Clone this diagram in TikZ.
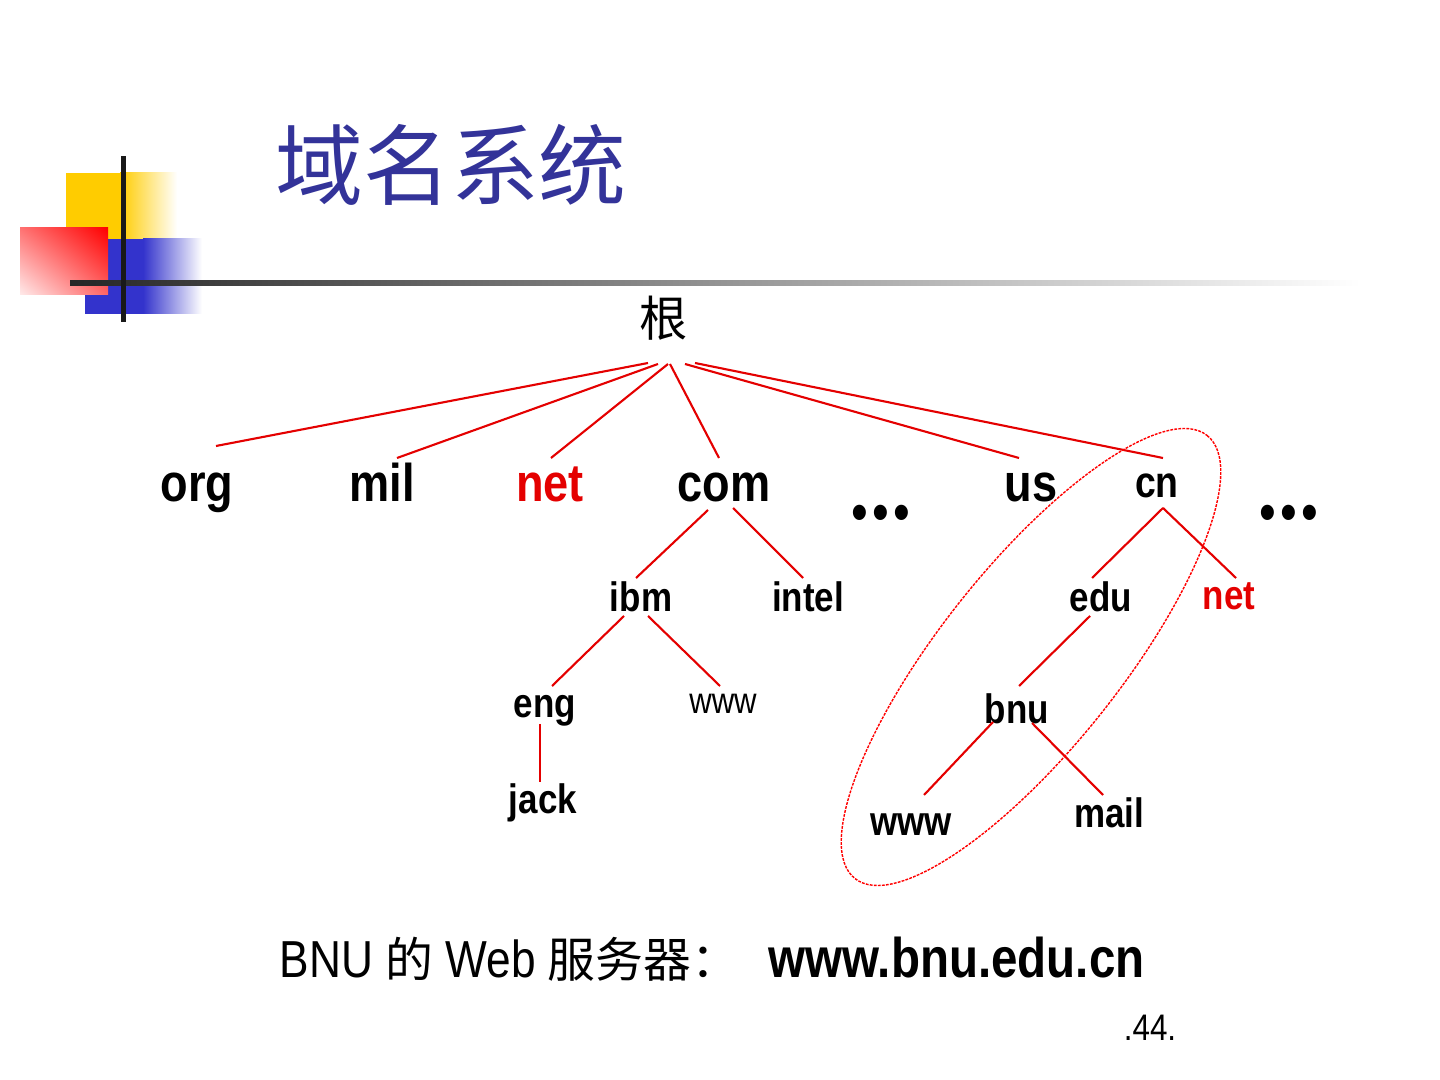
\documentclass[tikz,border=0pt]{standalone}
\usepackage{fontspec}
\setmainfont{Liberation Sans}[FakeStretch=0.85]
\newfontfamily\cjk{Noto Sans CJK SC}
\usetikzlibrary{calc,shadings}
\definecolor{titleblue}{RGB}{51,51,153}
\definecolor{deckyellow}{RGB}{255,204,0}
\definecolor{deckblue}{RGB}{51,51,204}
\definecolor{deckred}{RGB}{255,0,0}
\definecolor{linkred}{RGB}{228,0,0}
\tikzset{
    % Slide title - blue CJK
    slidetitle/.style={
        inner sep=0pt,
        text=titleblue,
        font=\cjk\fontsize{25}{30}\selectfont
    },
    % Root of the tree
    rootlabel/.style={
        inner sep=0pt,
        font=\cjk\fontsize{13.7}{16}\selectfont
    },
    % Top level domains - large bold
    toplabel/.style={
        anchor=base,
        inner sep=0pt,
        font=\fontsize{15.1}{18}\selectfont\bfseries
    },
    % Lower level domains
    sublabel/.style={
        anchor=base,
        inner sep=0pt,
        font=\fontsize{11.7}{14}\selectfont\bfseries
    },
    % Thin host name
    hostlabel/.style={
        anchor=base,
        inner sep=0pt,
        font=\fontsize{10.4}{12}\selectfont
    },
    % Highlighted label
    hot/.style={
        text=linkred
    },
    % Ellipsis dots
    moredots/.style={
        anchor=base,
        inner sep=0pt,
        font=\fontsize{16}{19}\selectfont
    },
    % Footer text
    footer/.style={
        anchor=base west,
        inner sep=0pt,
        font=\fontsize{14.8}{18}\selectfont
    },
    % Tree branch
    branch/.style={
        draw=linkred,
        line width=0.6pt
    },
    % Hand drawn ring
    zonering/.style={
        draw=deckred,
        line width=0.4pt,
        dash pattern=on 0.8pt off 0.35pt
    }
}
\begin{document}
\begin{tikzpicture}[x=0.01cm, y=-0.01cm]
    \useasboundingbox (0,0) rectangle (1440,1080);

    % ========== CORNER DECORATION ==========
    \fill[deckyellow] (66,173) rectangle (120,239);
    \shade[left color=deckyellow, right color=white] (120,173) rectangle (177,239);
    \fill[deckblue] (85,239) rectangle (143,314);
    \shade[left color=deckblue, right color=white] (143,239) rectangle (202,314);
    \shade[upper right=deckred, upper left=deckred!55, lower right=deckred!60, lower left=deckred!8] (20,228) rectangle (108,295);
    \shade[left color=black!85, right color=white] (70,280.5) rectangle (1360,285.5);
    \fill[black!90] (120.5,156) rectangle (125.5,322);

    % ========== TITLE ==========
    \node[slidetitle] (title) at (451,165) {域名系统};

    % ========== ROOT ==========
    \node[rootlabel] (root) at (664,318) {根};

    % ========== TOP LEVEL ==========
    \node[toplabel] (org) at (197,502) {org};
    \node[toplabel] (mil) at (382,502) {mil};
    \node[toplabel, hot] (net) at (550,502) {net};
    \node[toplabel] (com) at (724,502) {com};
    \node[moredots] (dotsa) at (881,532) {•\kern1.2pt•\kern1.2pt•};
    \node[toplabel] (us) at (1031,502) {us};
    \node[sublabel, font=\fontsize{12.5}{15}\selectfont\bfseries] (cn) at (1157,498) {cn};
    \node[moredots] (dotsb) at (1289,532) {•\kern1.2pt•\kern1.2pt•};

    % ========== UNDER COM ==========
    \node[sublabel] (ibm) at (641,612) {ibm};
    \node[sublabel] (intel) at (808,612) {intel};
    \node[sublabel] (eng) at (545,718) {eng};
    \node[hostlabel] (ibmwww) at (723,713) {www};
    \node[sublabel] (jack) at (543,813) {jack};

    % ========== UNDER CN ==========
    \node[sublabel] (edu) at (1101,612) {edu};
    \node[sublabel, hot] (cnnet) at (1229,610) {net};
    \node[sublabel] (bnu) at (1017,723) {bnu};
    \node[sublabel] (bnuwww) at (911,835) {www};
    \node[sublabel] (mail) at (1109,827) {mail};

    % ========== FOOTER ==========
    \node[footer] (server) at (279,977) {BNU {\cjk\fontsize{13.6}{16}\selectfont 的} Web {\cjk\fontsize{13.6}{16}\selectfont 服务器：}};
    \node[footer, font=\fontsize{15.9}{19}\selectfont\bfseries] (url) at (768,977) {www.bnu.edu.cn};
    \node[anchor=base, inner sep=0pt, font=\fontsize{10.5}{12}\selectfont] (page) at (1150,1040) {.44.};

    % ========== CONNECTIONS ==========

    % Root to top level
    \draw[branch] ($(root)+(-16,45)$) -- ($(org.base)+(19,-56)$);
    \draw[branch] ($(root)+(-6,46)$) -- ($(mil.base)+(15,-44)$);
    \draw[branch] ($(root)+(4,46)$) -- ($(net.base)+(1,-44)$);
    \draw[branch] ($(root)+(6,46)$) -- ($(com.base)+(-5,-44)$);
    \draw[branch] ($(root)+(21,46)$) -- ($(us.base)+(-12,-44)$);
    \draw[branch] ($(root)+(31,45)$) -- ($(cn.base)+(6,-40)$);

    % Com branch
    \draw[branch] ($(com.base)+(-16,8)$) -- ($(ibm.base)+(-5,-34)$);
    \draw[branch] ($(com.base)+(9,6)$) -- ($(intel.base)+(-5,-34)$);
    \draw[branch] ($(ibm.base)+(-17,4)$) -- ($(eng.base)+(7,-32)$);
    \draw[branch] ($(ibm.base)+(7,4)$) -- ($(ibmwww.base)+(-3,-27)$);
    \draw[branch] ($(eng.base)+(-5,6)$) -- ($(jack.base)+(-3,-31)$);

    % Cn branch
    \draw[branch] ($(cn.base)+(6,10)$) -- ($(edu.base)+(-9,-34)$);
    \draw[branch] ($(cn.base)+(6,10)$) -- ($(cnnet.base)+(7,-32)$);
    \draw[branch] ($(edu.base)+(-11,4)$) -- ($(bnu.base)+(2,-37)$);
    \draw[branch] ($(bnu.base)+(-24,-1)$) -- ($(bnuwww.base)+(13,-40)$);
    \draw[branch] ($(bnu.base)+(15,0)$) -- ($(mail.base)+(-6,-32)$);

    % Ring round www.bnu.edu.cn
    \draw[zonering, rotate around={51.5:(1031,657)}] (1031,657) ellipse [x radius=283, y radius=90];

\end{tikzpicture}
\end{document}
